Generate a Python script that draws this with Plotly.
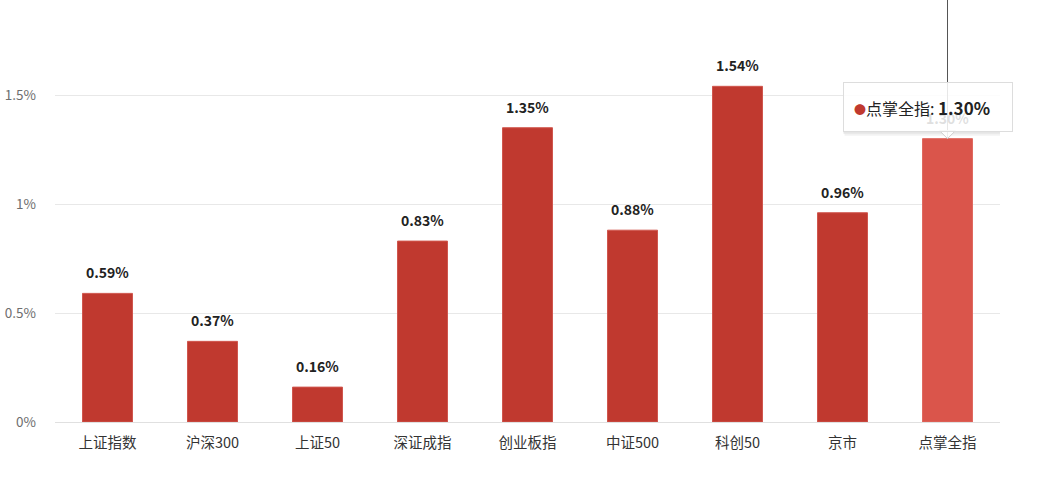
import plotly.graph_objects as go

categories = ["上证指数", "沪深300", "上证50", "深证成指", "创业板指", "中证500", "科创50", "京市", "点掌全指"]
values = [0.59, 0.37, 0.16, 0.83, 1.35, 0.88, 1.54, 0.96, 1.30]
ytick_vals = [0, 0.5, 1, 1.5]
ytick_text = ["0%", "0.5%", "1%", "1.5%"]
highlight_index = 8

BAR = "#c0392f"
BAR_HI = "#da554b"
FONT = "Noto Sans CJK SC, Noto Sans, sans-serif"

colors = [BAR_HI if i == highlight_index else BAR for i in range(len(categories))]
lines = ["#d0564d" if i != highlight_index else "#e06a60" for i in range(len(categories))]

fig = go.Figure()
fig.add_trace(go.Bar(
    x=categories, y=values,
    marker=dict(color=colors, line=dict(color=lines, width=1)),
    width=0.476, hoverinfo="skip",
))

annotations = []
for i, (c, v) in enumerate(zip(categories, values)):
    annotations.append(dict(
        x=c, y=v, xref="x", yref="y", text=f"<b>{v:.2f}%</b>",
        showarrow=False, yanchor="middle", yshift=21,
        font=dict(family=FONT, size=14, color="#222222"),
    ))

hc = categories[highlight_index]
hv = values[highlight_index]

SH1 = "rgba(0,0,0,0.10)"
SH2 = "rgba(0,0,0,0.05)"
shapes = [
    # crosshair line
    dict(type="line", xref="x", yref="y", x0=hc, x1=hc, y0=hv, y1=2.0,
         line=dict(color="#555555", width=1), layer="above"),
    # tooltip shadow (bottom and right edges)
    dict(type="path", xref="x", yref="y", xsizemode="pixel", ysizemode="pixel",
         xanchor=hc, yanchor=hv, path="M -104,7 L 66,7 L 66,5 L -104,5 Z",
         fillcolor=SH1, line=dict(width=0), layer="above"),
    dict(type="path", xref="x", yref="y", xsizemode="pixel", ysizemode="pixel",
         xanchor=hc, yanchor=hv, path="M -103,5 L 67,5 L 67,3 L -103,3 Z",
         fillcolor=SH2, line=dict(width=0), layer="above"),
    dict(type="path", xref="x", yref="y", xsizemode="pixel", ysizemode="pixel",
         xanchor=hc, yanchor=hv, path="M 65,55 L 67,55 L 67,5 L 65,5 Z",
         fillcolor=SH1, line=dict(width=0), layer="above"),
    dict(type="path", xref="x", yref="y", xsizemode="pixel", ysizemode="pixel",
         xanchor=hc, yanchor=hv, path="M 67,54 L 68,54 L 68,3 L 67,3 Z",
         fillcolor=SH2, line=dict(width=0), layer="above"),
    # tooltip arrow
    dict(type="path", xref="x", yref="y", xsizemode="pixel", ysizemode="pixel",
         xanchor=hc, yanchor=hv,
         path="M -8,8 L 0,0 L 8,8 Z",
         fillcolor="rgba(255,255,255,0.9)", line=dict(color="#cfcfcf", width=1), layer="above"),
]

annotations.append(dict(
    x=hc, y=hv, xref="x", yref="y",
    text=("<span style='color:%s;font-size:12px'>●</span>" % BAR) +
         "<span style='font-size:16px'>%s: </span><b>%.2f%%</b>" % (hc, hv),
    showarrow=False, align="left", xanchor="center", yanchor="middle",
    xshift=-20, yshift=32, width=148, height=28, borderpad=10,
    bgcolor="rgba(255,255,255,0.86)", bordercolor="#dddddd", borderwidth=1,
    font=dict(family=FONT, size=17, color="#222222"),
))

fig.update_layout(
    width=1050, height=484,
    margin=dict(l=55, r=50, t=0, b=62),
    paper_bgcolor="white", plot_bgcolor="white",
    showlegend=False, bargap=0.52,
    font=dict(family=FONT),
    xaxis=dict(
        range=[-0.5, len(categories) - 0.5], autorange=False,
        showgrid=False, showline=True, linecolor="#e0e0e0", linewidth=1,
        ticks="", tickfont=dict(family=FONT, size=14.5, color="#333333"),
        ticklabelstandoff=8, fixedrange=True,
    ),
    yaxis=dict(
        range=[0, 1.936], autorange=False, tickvals=ytick_vals, ticktext=ytick_text,
        showgrid=True, gridcolor="#e8e8e8", gridwidth=1,
        zeroline=False, showline=False, ticks="",
        tickfont=dict(family=FONT, size=13.5, color="#6e6e6e"),
        ticklabelstandoff=18, fixedrange=True,
    ),
    annotations=annotations,
    shapes=shapes,
)

fig.write_html("out.html", config={"displayModeBar": False, "staticPlot": True},
               post_script="document.body.style.margin='0';document.body.style.overflow='hidden';")
